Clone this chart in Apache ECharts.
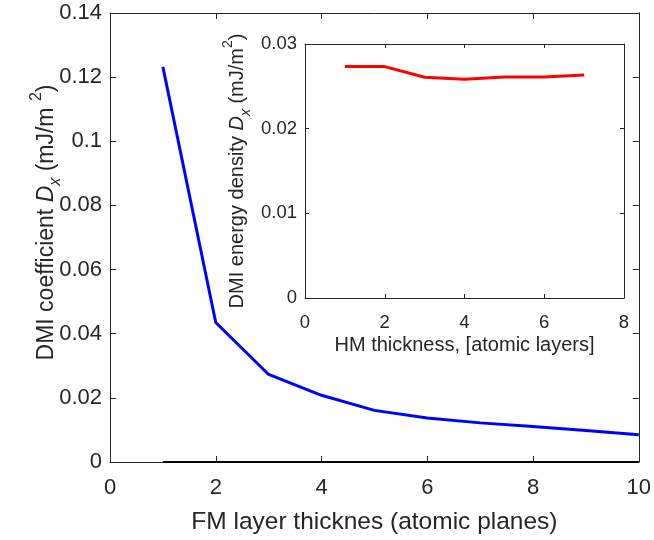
<!DOCTYPE html>
<html>
<head>
<meta charset="utf-8">
<script src="https://cdn.jsdelivr.net/npm/echarts@6/dist/echarts.min.js"></script>
<style>html,body{margin:0;padding:0;background:#fff}#c{width:654px;height:540px}</style>
</head>
<body>
<div id="c"></div>
<script>
// Main plot data
const fmThickness = [1, 2, 3, 4, 5, 6, 7, 8, 9, 10];
const dmiCoefficient = [0.1232, 0.0435, 0.0273, 0.0208, 0.0161, 0.0137, 0.0122, 0.0111, 0.0098, 0.0085];
const zeroLine = [0, 0, 0, 0, 0, 0, 0, 0, 0, 0];
// Inset data
const hmThickness = [1, 2, 3, 4, 5, 6, 7];
const dmiEnergyDensity = [0.02733, 0.02733, 0.02607, 0.02583, 0.02610, 0.02610, 0.02634];

const FONT = '"Liberation Sans", Arial, Helvetica, sans-serif';
const AX = '#262626';

function pairs(xs, ys) { return xs.map((x, i) => [x, ys[i]]); }

function axisCommon(tickLen, fs, showLabel, margin) {
  return {
    nameMoveOverlap: false,
    axisLine: { show: true, onZero: false, lineStyle: { color: AX, width: 1 } },
    axisTick: { show: true, inside: true, length: tickLen, lineStyle: { color: AX, width: 1 } },
    axisLabel: { show: showLabel, color: AX, fontSize: fs, fontFamily: FONT, margin: margin },
    splitLine: { show: false }
  };
}

const chart = echarts.init(document.getElementById('c'), null, { renderer: 'canvas' });

const yNameMain = '{n|DMI coefficient }{i|D}{s|x}{n| (mJ/m }{p|2}{n|)}';
const yNameInset = '{n|DMI energy density }{i|D}{s|x}{n| (mJ/m}{p|2}{n|)}';

function richFor(fs, sub) {
  return {
    n: { fontSize: fs, lineHeight: fs + 12, fontFamily: FONT, color: AX },
    i: { fontSize: fs, lineHeight: fs + 12, fontFamily: FONT, color: AX, fontStyle: 'italic' },
    s: { fontSize: sub, lineHeight: sub, fontFamily: FONT, color: AX, fontStyle: 'italic', verticalAlign: 'bottom' },
    p: { fontSize: sub, lineHeight: sub, fontFamily: FONT, color: AX, verticalAlign: 'top' }
  };
}

const option = {
  backgroundColor: '#ffffff',
  animation: false,
  grid: [
    { left: 110, right: 13, top: 13, bottom: 74, show: false },
    { left: 305, right: 30, top: 44, bottom: 242, show: true, backgroundColor: '#ffffff', borderWidth: 0, z: 5 }
  ],
  xAxis: [
    Object.assign({ type: 'value', gridIndex: 0, min: 0, max: 10, interval: 2, position: 'bottom',
      name: 'FM layer thicknes (atomic planes)', nameLocation: 'middle', nameGap: 48,
      nameTextStyle: { fontSize: 24.5, color: AX, fontFamily: FONT } }, axisCommon(6, 22, true, 15)),
    Object.assign({ type: 'value', gridIndex: 0, min: 0, max: 10, interval: 2, position: 'top' }, axisCommon(6, 22, false, 8)),
    Object.assign({ type: 'value', gridIndex: 1, min: 0, max: 8, interval: 2, position: 'bottom', z: 6,
      name: 'HM thickness, [atomic layers]', nameLocation: 'middle', nameGap: 37,
      nameTextStyle: { fontSize: 20, color: AX, fontFamily: FONT } }, axisCommon(4, 18.5, true, 15)),
    Object.assign({ type: 'value', gridIndex: 1, min: 0, max: 8, interval: 2, position: 'top', z: 6 }, axisCommon(4, 18.5, false, 8))
  ],
  yAxis: [
    Object.assign({ type: 'value', gridIndex: 0, min: 0, max: 0.14, interval: 0.02, position: 'left',
      name: yNameMain, nameLocation: 'middle', nameGap: 46, nameRotate: 90,
      nameTextStyle: { fontSize: 23, color: AX, fontFamily: FONT, padding: [0, 0, 0, 30], rich: richFor(23, 16) } }, axisCommon(6, 22, true, 8)),
    Object.assign({ type: 'value', gridIndex: 0, min: 0, max: 0.14, interval: 0.02, position: 'right' }, axisCommon(6, 22, false, 8)),
    Object.assign({ type: 'value', gridIndex: 1, min: 0, max: 0.03, interval: 0.01, position: 'left', z: 6,
      name: yNameInset, nameLocation: 'middle', nameGap: 52, nameRotate: 90,
      nameTextStyle: { fontSize: 20, color: AX, fontFamily: FONT, rich: richFor(20, 14) } }, axisCommon(4, 18.5, true, 8)),
    Object.assign({ type: 'value', gridIndex: 1, min: 0, max: 0.03, interval: 0.01, position: 'right', z: 6 }, axisCommon(4, 18.5, false, 8))
  ],
  series: [
    { type: 'line', xAxisIndex: 0, yAxisIndex: 0, data: pairs(fmThickness, zeroLine), symbol: 'none',
      lineStyle: { color: '#000000', width: 2 }, z: 2 },
    { type: 'line', xAxisIndex: 0, yAxisIndex: 0, data: pairs(fmThickness, dmiCoefficient), symbol: 'none',
      lineStyle: { color: '#0000ff', width: 3 }, z: 3 },
    { type: 'line', xAxisIndex: 2, yAxisIndex: 2, data: pairs(hmThickness, dmiEnergyDensity), symbol: 'none',
      lineStyle: { color: '#ff0000', width: 3 }, z: 7 }
  ]
};
chart.setOption(option);
</script>
</body>
</html>
